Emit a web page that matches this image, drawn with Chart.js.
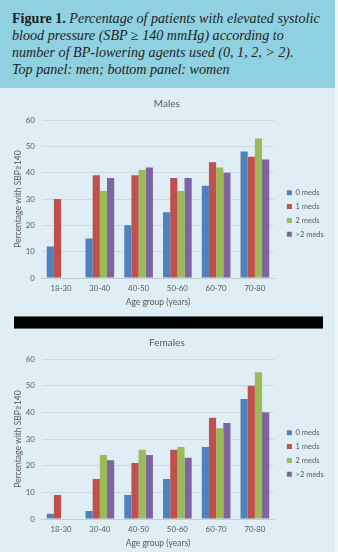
<!DOCTYPE html>
<html>
<head>
<meta charset="utf-8">
<script src="https://cdn.jsdelivr.net/npm/chart.js@4"></script>
<style>
  html, body { margin: 0; padding: 0; }
  body { width: 338px; height: 552px; background: #eef7fa; position: relative; overflow: hidden; }
  #panel { position: absolute; left: 0; top: 0; width: 335px; height: 552px; background: #dfeef5; }
  #header {
    position: absolute; left: 0; top: 0; width: 335px; height: 88px; background: #8fd0e1;
    font-family: "Liberation Serif", serif; font-size: 14.1px; line-height: 17px; color: #231f20;
    white-space: pre; box-sizing: border-box; padding: 10px 0 0 12px;
  }
  #header b { font-style: normal; }
  #header i { font-style: italic; }
  #divider { position: absolute; left: 14px; top: 316px; width: 309px; height: 11px; background: #000; border-top: 1px solid #58686e; border-bottom: 1px solid #58686e; }
  canvas { position: absolute; left: 0; }
</style>
</head>
<body>
<div id="panel"></div>
<div id="header"><b>Figure 1.</b> <i>Percentage of patients with elevated systolic
blood pressure (SBP ≥ 140 mmHg) according to
number of BP-lowering agents used (0, 1, 2, &gt; 2).
Top panel: men; bottom panel: women</i></div>
<div id="divider"></div>
<canvas id="malesChart" style="top:93px;width:338px;height:218px" width="338" height="218"></canvas>
<canvas id="femalesChart" style="top:332px;width:338px;height:220px" width="338" height="220"></canvas>
<script>
// Valores
const ageGroups = ['18-30', '30-40', '40-50', '50-60', '60-70', '70-80'];
const seriesNames = ['0 meds', '1 meds', '2 meds', '>2 meds'];
const seriesColors = ['#4f81bd', '#c0504d', '#9bbb59', '#8064a2'];
const yTicks = [0, 10, 20, 30, 40, 50, 60];

const males0 = [12, 15, 20, 25, 35, 48];
const males1 = [30, 39, 39, 38, 44, 46];
const males2 = [0, 33, 41, 33, 42, 53];
const males3 = [0, 38, 42, 38, 40, 45];

const females0 = [2, 3, 9, 15, 27, 45];
const females1 = [9, 15, 21, 26, 38, 50];
const females2 = [0, 24, 26, 27, 34, 55];
const females3 = [0, 22, 24, 23, 36, 40];

const textColor = '#595959';
const fontFamily = 'Lato, "Open Sans", sans-serif';

function buildChart(canvasId, title, values) {
    const ctx = document.getElementById(canvasId).getContext('2d');
    return new Chart(ctx, {
        type: 'bar',
        data: {
            labels: ageGroups,
            datasets: values.map((v, i) => ({
                label: seriesNames[i],
                data: v,
                backgroundColor: seriesColors[i],
                borderWidth: 0,
                categoryPercentage: 0.74,
                barPercentage: 1.0
            }))
        },
        options: {
            responsive: false,
            animation: false,
            devicePixelRatio: 1,
            layout: { padding: { left: 0, right: 4.2, top: 0, bottom: 0 } },
            plugins: {
                title: {
                    display: true, text: title, color: textColor,
                    font: { family: fontFamily, size: 10, weight: 'normal' },
                    padding: { top: 5, bottom: 10 }
                },
                legend: {
                    position: 'right',
                    align: 'center',
                    // titre vide : décale les items vers le bas
                    title: { display: true, text: '', font: { size: 10 }, padding: { top: 0, bottom: 11 } },
                    labels: {
                        color: textColor, boxWidth: 5, boxHeight: 5, padding: 6.3,
                        font: { family: fontFamily, size: 7.5 }
                    }
                },
                tooltip: { enabled: false }
            },
            scales: {
                x: {
                    grid: { display: false, drawTicks: false },
                    border: { display: true, color: '#c8cdd0' },
                    ticks: { color: textColor, font: { family: fontFamily, size: 7.8 }, padding: 6 },
                    title: {
                        display: true, text: 'Age group (years)', color: textColor,
                        font: { family: fontFamily, size: 8.5 }, padding: { top: 2, bottom: 4 }
                    },
                    afterFit: axis => { axis.height = 33; }
                },
                y: {
                    min: yTicks[0], max: yTicks[yTicks.length - 1],
                    afterBuildTicks: axis => { axis.ticks = yTicks.map(v => ({ value: v })); },
                    grid: { color: '#cfd8dc', drawTicks: false },
                    border: { display: false },
                    ticks: { color: textColor, font: { family: fontFamily, size: 7.8 }, padding: 7 },
                    title: {
                        display: true, text: 'Percentage with SBP≥140', color: textColor,
                        font: { family: fontFamily, size: 8.5 }, padding: { top: 13, bottom: 3 }
                    },
                    afterFit: axis => { axis.width = 41.7; }
                },
                // espace entre le graphique et la légende
                gap: {
                    position: 'right', display: true,
                    grid: { display: false }, border: { display: false },
                    ticks: { display: false },
                    afterFit: axis => { axis.width = 6.3; }
                }
            }
        }
    });
}

buildChart('malesChart', 'Males', [males0, males1, males2, males3]);
buildChart('femalesChart', 'Females', [females0, females1, females2, females3]);
</script>
</body>
</html>
